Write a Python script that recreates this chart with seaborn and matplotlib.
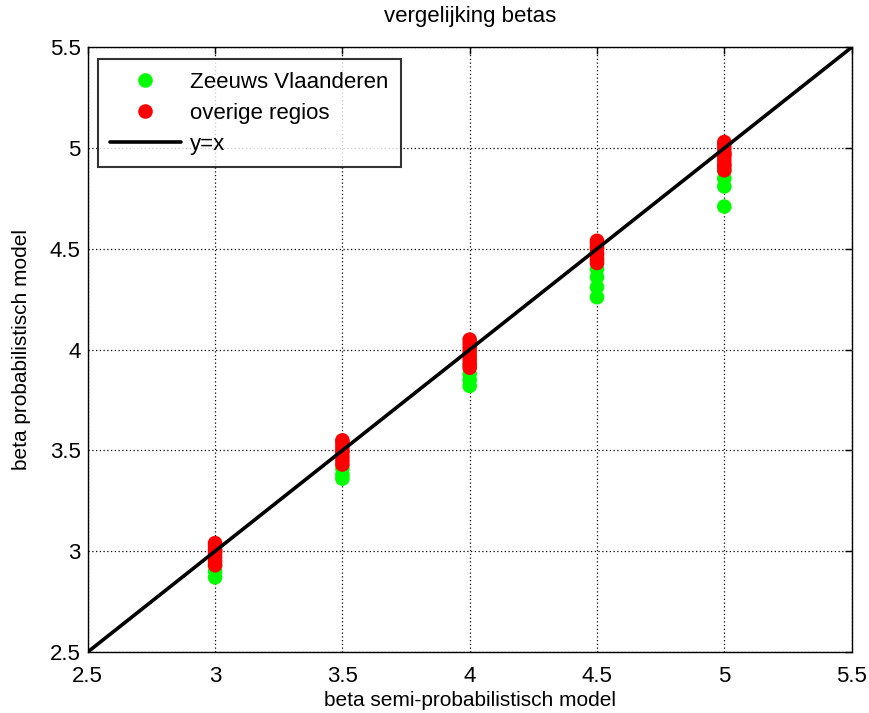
import numpy as np
import pandas as pd
import matplotlib
matplotlib.use("Agg")
import matplotlib.pyplot as plt
import seaborn as sns

# data
zv_x = [3, 3, 3, 3.5, 3.5, 3.5, 4, 4, 4, 4, 4.5, 4.5, 4.5, 4.5, 4.5, 5, 5, 5, 5]
zv_y = [2.87, 2.90, 2.93, 3.36, 3.38, 3.41, 3.82, 3.85, 3.88, 3.92, 4.26, 4.31, 4.36, 4.40, 4.44, 4.71, 4.81, 4.85, 4.89]
ov_x = [3] * 8 + [3.5] * 8 + [4] * 8 + [4.5] * 8 + [5] * 10
ov_y = [2.93, 2.95, 2.97, 2.99, 3.00, 3.01, 3.03, 3.04,
        3.43, 3.45, 3.47, 3.49, 3.50, 3.52, 3.54, 3.55,
        3.91, 3.93, 3.95, 3.97, 3.99, 4.01, 4.03, 4.05,
        4.43, 4.45, 4.47, 4.48, 4.50, 4.51, 4.53, 4.54,
        4.89, 4.91, 4.92, 4.94, 4.96, 4.97, 4.98, 5.00, 5.02, 5.03]
line_x = [2.5, 5.5]
line_y = [2.5, 5.5]
ticks = [2.5, 3, 3.5, 4, 4.5, 5, 5.5]

df = pd.DataFrame({
    "x": zv_x + ov_x,
    "y": zv_y + ov_y,
    "groep": ["Zeeuws Vlaanderen"] * len(zv_x) + ["overige regios"] * len(ov_x),
})

sns.set_style("white")
plt.rcParams["font.family"] = ["Liberation Sans", "DejaVu Sans"]
plt.rcParams["text.color"] = "black"
plt.rcParams["axes.labelcolor"] = "black"
plt.rcParams["xtick.color"] = "black"
plt.rcParams["ytick.color"] = "black"

fig = plt.figure(figsize=(8.69, 7.13), dpi=100)
ax = fig.add_axes([0.101, 0.0856, 0.879, 0.848])

sns.scatterplot(data=df, x="x", y="y", hue="groep",
                palette={"Zeeuws Vlaanderen": "#00ff00", "overige regios": "#ff0000"},
                s=110, edgecolor="none", linewidth=0, ax=ax, zorder=3)
sns.lineplot(x=line_x, y=line_y, color="black", linewidth=2.6, ax=ax, label="y=x", zorder=4)

ax.set_xlim(2.5, 5.5)
ax.set_ylim(2.5, 5.5)
ax.set_xticks(ticks)
ax.set_yticks(ticks)
ax.set_xticklabels([f"{t:g}" for t in ticks])
ax.set_yticklabels([f"{t:g}" for t in ticks])
ax.tick_params(direction="in", top=True, right=True, length=5, width=1,
               labelsize=16, colors="black")
ax.tick_params(axis="x", pad=10)
ax.tick_params(axis="y", pad=5)
ax.grid(True, color="black", linestyle=(0, (1, 2)), linewidth=0.9)
for s in ax.spines.values():
    s.set_color("black")
    s.set_linewidth(1.0)

ax.set_xlabel("beta semi-probabilistisch model", fontsize=15, labelpad=3)
ax.set_ylabel("beta probabilistisch model", fontsize=15, labelpad=14)
ax.set_title("vergelijking betas", fontsize=16, pad=18)

handles, labels = ax.get_legend_handles_labels()
leg = ax.legend(handles, labels, loc="upper left", bbox_to_anchor=(0.013, 0.98),
                borderaxespad=0, fontsize=16, frameon=True, fancybox=False,
                edgecolor="black", borderpad=0.55, handlelength=3.2,
                handletextpad=0.4, labelspacing=0.45, markerscale=1.0)
leg.get_frame().set_linewidth(1.5)

fig.savefig("out.png", dpi=100)
